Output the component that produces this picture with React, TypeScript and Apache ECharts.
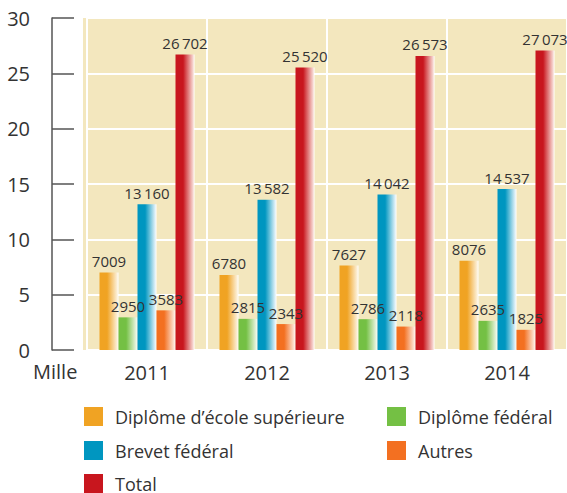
import React, { useEffect, useRef } from "react";
import * as echarts from "echarts";

const categories = ["2011", "2012", "2013", "2014"];
const seriesNames = [
  "Diplôme d’école supérieure",
  "Diplôme fédéral",
  "Brevet fédéral",
  "Autres",
  "Total",
];
const ecoleSup = [7009, 6780, 7627, 8076];
const diplomeFed = [2950, 2815, 2786, 2635];
const brevetFed = [13160, 13582, 14042, 14537];
const autres = [3583, 2343, 2118, 1825];
const total = [26702, 25520, 26573, 27073];
const yTicks = { min: 0, max: 30, interval: 5 };

const baseColors = ["#F0A323", "#74C044", "#0096C0", "#F37021", "#C8161E"];
const lightColors = ["#FCEFD6", "#E8F4DE", "#DDF0F8", "#FDE3D4", "#F7D6D0"];
// legend placement: [left, top] per series
const legendPos = [
  [84, 407],
  [387, 407],
  [84, 441],
  [387, 441],
  [84, 474],
];

const FONT = "'Open Sans', 'Noto Sans', sans-serif";

function fmt(v: number): string {
  if (v >= 10000) {
    const s = String(v);
    return s.slice(0, s.length - 3) + "\u2009" + s.slice(s.length - 3);
  }
  return String(v);
}

export default function App() {
  const ref = useRef<HTMLDivElement>(null);
  useEffect(() => {
    document.body.style.margin = "0";
    if (!ref.current) return;
    const chart = echarts.init(ref.current, null, { renderer: "svg" });
    const allValues = [ecoleSup, diplomeFed, brevetFed, autres, total];
    const series = allValues.map((vals, i) => ({
      name: seriesNames[i],
      type: "bar",
      barWidth: 19,
      barGap: "0%",
      data: vals.map((v) => v / 1000),
      itemStyle: {
        color: new echarts.graphic.LinearGradient(0, 0, 1, 0, [
          { offset: 0, color: baseColors[i] },
          { offset: 0.4, color: baseColors[i] },
          { offset: 0.92, color: lightColors[i] },
          { offset: 1, color: "#FFFFFF" },
        ]),
      },
      label: {
        show: true,
        position: "top",
        distance: 4,
        fontFamily: FONT,
        fontSize: 15,
        color: "#333333",
        formatter: (p: any) => fmt(vals[p.dataIndex]),
      },
    }));

    const legends = seriesNames.map((name, i) => ({
      orient: "horizontal",
      left: legendPos[i][0],
      top: legendPos[i][1],
      padding: 0,
      itemWidth: 19,
      itemHeight: 19,
      icon: "rect",
      selectedMode: false,
      textStyle: {
        fontFamily: FONT,
        fontSize: 18,
        lineHeight: 19,
        color: "#333333",
        padding: [0, 0, 0, 7],
      },
      data: [{ name, itemStyle: { color: baseColors[i] } }],
    }));

    chart.setOption({
      animation: false,
      backgroundColor: "#FFFFFF",
      grid: {
        left: 87,
        right: 0,
        top: 18,
        bottom: 143,
        show: true,
        backgroundColor: "#F3E7BE",
        borderWidth: 0,
      },
      graphic: [
        {
          type: "rect",
          left: 83,
          top: 18,
          shape: { width: 5, height: 332 },
          style: { fill: "#F3E7BE" },
          z: -1,
        },
        {
          type: "text",
          left: 33,
          top: 361,
          style: {
            text: "Mille",
            fontFamily: FONT,
            fontSize: 20,
            fill: "#333333",
          },
        },
      ],
      legend: legends,
      xAxis: {
        type: "category",
        data: categories,
        axisLine: { show: false },
        axisTick: { show: false },
        splitLine: {
          show: true,
          interval: 0,
          lineStyle: { color: "#FFFFFF", width: 2 },
        },
        axisLabel: {
          fontFamily: FONT,
          fontSize: 20,
          color: "#333333",
          margin: 12,
        },
      },
      yAxis: [
        {
          type: "value",
          ...yTicks,
          axisLine: { show: false },
          axisTick: { show: false },
          axisLabel: { show: false },
          splitLine: { show: true, lineStyle: { color: "#FFFFFF", width: 2 } },
        },
        {
          type: "value",
          ...yTicks,
          position: "left",
          offset: 35,
          axisLine: { show: true, lineStyle: { color: "#555555", width: 1.5 } },
          axisTick: {
            show: true,
            inside: true,
            length: 22,
            lineStyle: { color: "#555555", width: 1.5 },
          },
          axisLabel: {
            fontFamily: FONT,
            fontSize: 20,
            color: "#333333",
            margin: 22,
          },
          splitLine: { show: false },
        },
      ],
      series,
    });
    return () => chart.dispose();
  }, []);
  return <div ref={ref} style={{ width: 567, height: 493 }} />;
}
